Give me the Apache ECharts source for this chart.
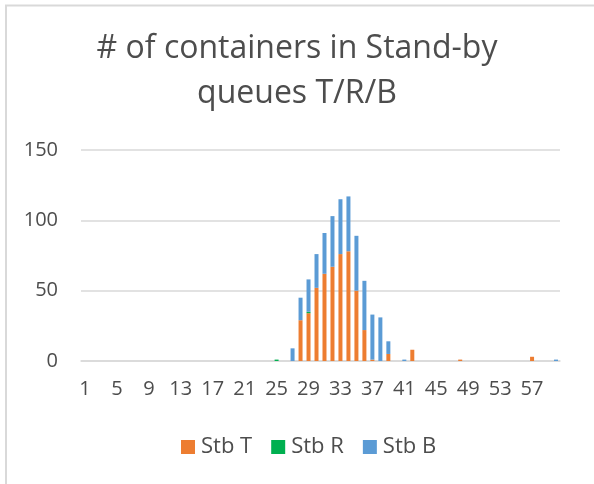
<!DOCTYPE html>
<html>
<head>
<meta charset="utf-8">
<script src="https://cdn.jsdelivr.net/npm/echarts@6/dist/echarts.min.js"></script>
<style>
  html, body { margin: 0; padding: 0; background: #fff; }
  #chart_stb { width: 594px; height: 484px; }
</style>
</head>
<body>
<div id="chart_stb"></div>
<script>
// categories 1..60
var categories = ['1','2','3','4','5','6','7','8','9','10','11','12','13','14','15','16','17','18','19','20',
                  '21','22','23','24','25','26','27','28','29','30','31','32','33','34','35','36','37','38','39','40',
                  '41','42','43','44','45','46','47','48','49','50','51','52','53','54','55','56','57','58','59','60'];

// Stb T
var stbT = [0,0,0,0,0,0,0,0,0,0, 0,0,0,0,0,0,0,0,0,0,
            0,0,0,0,0,0,0,29,34,52, 62,67,76,78,50,22,1,0,5,0,
            0,8,0,0,0,0,0,1,0,0, 0,0,0,0,0,0,3,0,0,0];
// Stb R
var stbR = [0,0,0,0,0,0,0,0,0,0, 0,0,0,0,0,0,0,0,0,0,
            0,0,0,0,1,0,0,0,1,0, 0,0,0,0,0,0,0,0,0,0,
            0,0,0,0,0,0,0,0,0,0, 0,0,0,0,0,0,0,0,0,0];
// Stb B
var stbB = [0,0,0,0,0,0,0,0,0,0, 0,0,0,0,0,0,0,0,0,0,
            0,0,0,0,0,0,9,16,23,24, 29,36,39,39,39,35,32,31,9,0,
            1,0,0,0,0,0,0,0,0,0, 0,0,0,0,0,0,0,0,0,1];

var fontName = '"Open Sans", "Liberation Sans", sans-serif';

var chart_stb = echarts.init(document.getElementById('chart_stb'));
chart_stb.setOption({
    color: ['#ED7D31', '#00B050', '#5B9BD5'],
    animation: false,
    title: {
        text: '# of containers in Stand-by\nqueues T/R/B',
        left: 'center',
        top: 21,
        textStyle: {
            fontFamily: fontName,
            fontSize: 32,
            fontWeight: 'normal',
            color: '#4d4d4d',
            lineHeight: 45
        }
    },
    // chart frame (top + left edge)
    graphic: [
        { type: 'line', shape: { x1: 5, y1: 5.5, x2: 594, y2: 5.5 }, style: { stroke: '#d9d9d9', lineWidth: 2 } },
        { type: 'line', shape: { x1: 6, y1: 5, x2: 6, y2: 484 }, style: { stroke: '#d9d9d9', lineWidth: 2 } }
    ],
    legend: {
        data: ['Stb T', 'Stb R', 'Stb B'],
        left: 176,
        top: 431,
        itemWidth: 14,
        itemHeight: 14,
        itemGap: 19,
        icon: 'rect',
        textStyle: {
            fontFamily: fontName,
            fontSize: 22,
            color: '#4d4d4d',
            padding: [0, 0, 0, 1]
        }
    },
    grid: {
        left: 81,
        right: 34,
        top: 150,
        bottom: 123,
        containLabel: false
    },
    xAxis: {
        type: 'category',
        data: categories,
        axisTick: { show: false },
        axisLine: { lineStyle: { color: '#d9d9d9', width: 1.5 } },
        axisLabel: {
            interval: 3,
            margin: 18,
            fontFamily: fontName,
            fontSize: 20,
            color: '#4d4d4d'
        }
    },
    yAxis: {
        type: 'value',
        min: 0,
        max: 150,
        interval: 50,
        axisLine: { show: false },
        axisTick: { show: false },
        axisLabel: {
            margin: 23,
            fontFamily: fontName,
            fontSize: 20,
            color: '#4d4d4d'
        },
        splitLine: { lineStyle: { color: '#d9d9d9', width: 1.5 } }
    },
    series: [
        { name: 'Stb T', type: 'bar', stack: 'stb', barWidth: 4, data: stbT },
        { name: 'Stb R', type: 'bar', stack: 'stb', barWidth: 4, data: stbR },
        { name: 'Stb B', type: 'bar', stack: 'stb', barWidth: 4, data: stbB }
    ]
});
</script>
</body>
</html>
